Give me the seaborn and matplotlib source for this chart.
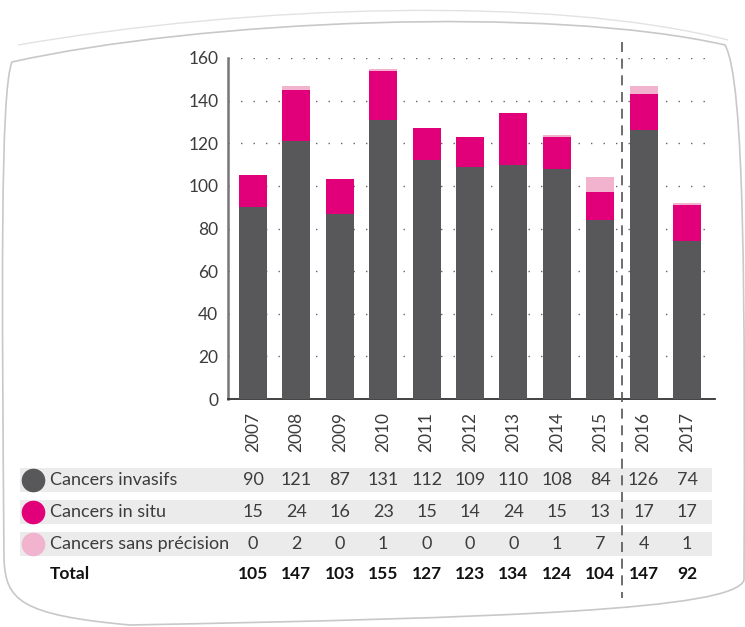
import seaborn as sns
import pandas as pd
import matplotlib.pyplot as plt
import matplotlib.transforms as mtransforms
from matplotlib.lines import Line2D
from matplotlib.patches import Rectangle, PathPatch
from matplotlib.path import Path

years = ["2007", "2008", "2009", "2010", "2011", "2012", "2013", "2014", "2015", "2016", "2017"]
invasifs = [90, 121, 87, 131, 112, 109, 110, 108, 84, 126, 74]
in_situ = [15, 24, 16, 23, 15, 14, 24, 15, 13, 17, 17]
sans_precision = [0, 2, 0, 1, 0, 0, 0, 1, 7, 4, 1]
row_labels = ["Cancers invasifs", "Cancers in situ", "Cancers sans précision"]

c_inv = "#58585a"
c_situ = "#e2007a"
c_sans = "#f2b3ce"
txt = "#3c3c3c"

df = pd.DataFrame({"year": years, "invasifs": invasifs,
                   "in_situ": in_situ, "sans": sans_precision})
df["inv_situ"] = df["invasifs"] + df["in_situ"]
df["total"] = df["inv_situ"] + df["sans"]

sns.set_style("white")
plt.rcParams["font.family"] = ["Lato", "DejaVu Sans"]

W, H = 745, 627
fig = plt.figure(figsize=(W / 100, H / 100), dpi=100)
ax = fig.add_axes([228 / W, 1 - 399 / H, (715 - 228) / W, (399 - 58) / H])

# stacked bars drawn as layered cumulative bars
for col, c in [("total", c_sans), ("inv_situ", c_situ), ("invasifs", c_inv)]:
    sns.barplot(data=df, x="year", y=col, color=c, width=0.645,
                saturation=1, ax=ax, zorder=3, linewidth=0, edgecolor="none")

ax.set_xlim(-0.576, 10.645)
ax.set_ylim(0, 160)
ax.set_yticks(range(0, 161, 20))
ax.yaxis.grid(True, linestyle=(0, (1, 8)), color="#666666", linewidth=1)
ax.set_axisbelow(True)
ax.set_xlabel("")
ax.set_ylabel("")
ax.tick_params(axis="y", length=0, pad=7, labelsize=12.5, labelcolor=txt)
ax.tick_params(axis="x", length=0, pad=9, labelsize=12.5, labelcolor=txt,
               labelrotation=90)
for s in ["top", "right"]:
    ax.spines[s].set_visible(False)
ax.spines["left"].set_color("#777777")
ax.spines["left"].set_linewidth(1.8)
ax.spines["bottom"].set_color("#333333")
ax.spines["bottom"].set_linewidth(1.3)

# blended transform: x in data, y in figure pixels
trans = mtransforms.blended_transform_factory(ax.transData, fig.transFigure)

def fy(py):
    return 1 - py / H

# vertical dashed separator between 2015 and 2016
fig.add_artist(Line2D([8.5, 8.5], [fy(42), fy(598)], transform=trans,
                      color="#555555", linewidth=1.2, linestyle=(0, (6, 4)),
                      zorder=5))

# table rows
row_y = [480, 512, 544]
row_colors = [c_inv, c_situ, c_sans]
row_values = [invasifs, in_situ, sans_precision]
for yy, col, lab, vals in zip(row_y, row_colors, row_labels, row_values):
    fig.add_artist(Rectangle((20 / W, fy(yy + 12)), (712 - 20) / W, 24 / H,
                             transform=fig.transFigure, facecolor="#ebebeb",
                             edgecolor="none", zorder=1))
    fig.add_artist(Line2D([33 / W], [fy(yy)], transform=fig.transFigure,
                          marker="o", markersize=16, color=col,
                          linestyle="none", zorder=3))
    fig.text(50 / W, fy(yy), lab, ha="left", va="center", fontsize=13,
             color=txt, zorder=3)
    for i, v in enumerate(vals):
        fig.text(i, fy(yy), str(v), transform=trans, ha="center",
                 va="center", fontsize=13, color=txt, zorder=3)

fig.text(50 / W, fy(574), "Total", ha="left", va="center", fontsize=12.5,
         fontweight="bold", color="#111111")
for i, v in enumerate(df["total"]):
    fig.text(i, fy(574), str(v), transform=trans, ha="center", va="center",
             fontsize=12.5, fontweight="bold", color="#111111")

# decorative frame
def frame(pts, color, lw):
    verts = [(x / W, 1 - y / H) for x, y in pts]
    codes = [Path.MOVETO] + [Path.CURVE4] * (len(verts) - 1)
    fig.add_artist(PathPatch(Path(verts, codes), transform=fig.transFigure,
                             facecolor="none", edgecolor=color, linewidth=lw,
                             zorder=0))

frame([(4, 560), (2, 300), (0, 90), (12, 62),
       (200, 20), (550, 5), (725, 45),
       (745, 80), (745, 300), (744, 580),
       (735, 610), (500, 618), (130, 625),
       (20, 615), (6, 600), (4, 560)], "#c8c8c8", 1.2)
frame([(18, 45), (250, 5), (550, -5), (728, 40)], "#e2e2e2", 1.0)

plt.savefig("out.png", dpi=100)
